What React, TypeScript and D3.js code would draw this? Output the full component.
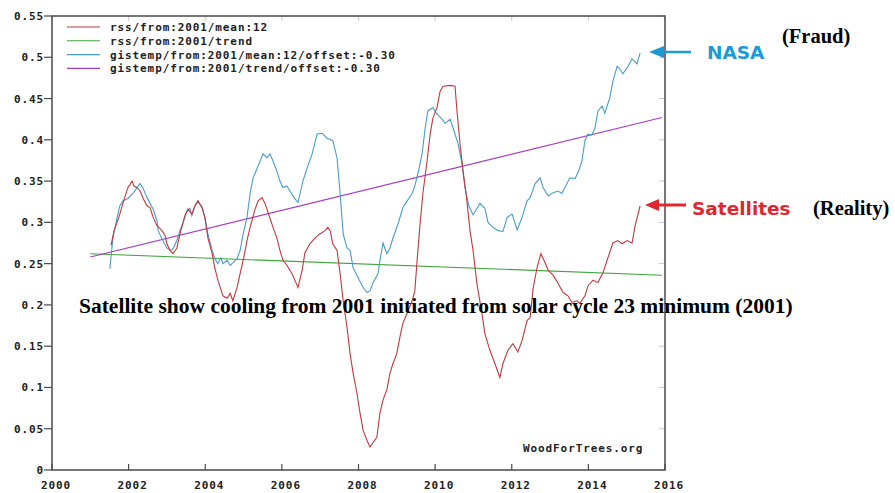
import React from "react";
import * as d3 from "d3";

const xTickYears = [2000, 2002, 2004, 2006, 2008, 2010, 2012, 2014, 2016];
const yTickValues = [0, 0.05, 0.1, 0.15, 0.2, 0.25, 0.3, 0.35, 0.4, 0.45, 0.5, 0.55];
const yTickLabels = ["0", "0.05", "0.1", "0.15", "0.2", "0.25", "0.3", "0.35", "0.4", "0.45", "0.5", "0.55"];

const legendLabels = [
  "rss/from:2001/mean:12",
  "rss/from:2001/trend",
  "gistemp/from:2001/mean:12/offset:-0.30",
  "gistemp/from:2001/trend/offset:-0.30",
];
const seriesColors = ["#c4383c", "#3ea63e", "#4a9ccb", "#a43fc6"];

// rss/from:2001/mean:12  [year, value]
const rssMean12: [number, number][] = [
  [2001.54, 0.272], [2001.62, 0.29], [2001.7, 0.3], [2001.77, 0.31], [2001.85, 0.323],
  [2001.98, 0.342], [2002.09, 0.35], [2002.14, 0.344], [2002.22, 0.342], [2002.3, 0.338],
  [2002.38, 0.329], [2002.48, 0.32], [2002.56, 0.318], [2002.64, 0.306], [2002.74, 0.296],
  [2002.87, 0.29], [2002.95, 0.284], [2003.0, 0.274], [2003.08, 0.266], [2003.16, 0.262],
  [2003.26, 0.269], [2003.34, 0.286], [2003.47, 0.308], [2003.55, 0.316], [2003.65, 0.31],
  [2003.73, 0.32], [2003.81, 0.326], [2003.92, 0.317], [2003.99, 0.306], [2004.07, 0.281],
  [2004.18, 0.262], [2004.25, 0.245], [2004.33, 0.23], [2004.46, 0.211], [2004.57, 0.208],
  [2004.65, 0.214], [2004.72, 0.205], [2004.83, 0.221], [2004.91, 0.238], [2004.99, 0.254],
  [2005.09, 0.278], [2005.17, 0.294], [2005.3, 0.316], [2005.38, 0.326], [2005.48, 0.33],
  [2005.56, 0.323], [2005.64, 0.312], [2005.77, 0.294], [2005.87, 0.281], [2005.95, 0.266],
  [2006.03, 0.254], [2006.13, 0.248], [2006.26, 0.238], [2006.34, 0.23], [2006.42, 0.221],
  [2006.53, 0.242], [2006.6, 0.263], [2006.73, 0.274], [2006.86, 0.281], [2006.99, 0.286],
  [2007.13, 0.29], [2007.2, 0.294], [2007.26, 0.29], [2007.33, 0.274], [2007.44, 0.266],
  [2007.52, 0.238], [2007.6, 0.205], [2007.7, 0.173], [2007.78, 0.141], [2007.86, 0.117],
  [2007.96, 0.093], [2008.04, 0.069], [2008.12, 0.048], [2008.22, 0.036], [2008.3, 0.028],
  [2008.38, 0.033], [2008.48, 0.04], [2008.56, 0.069], [2008.64, 0.085], [2008.74, 0.097],
  [2008.82, 0.117], [2008.9, 0.129], [2009.0, 0.141], [2009.08, 0.161], [2009.16, 0.178],
  [2009.27, 0.19], [2009.4, 0.205], [2009.47, 0.217], [2009.53, 0.254], [2009.6, 0.294],
  [2009.68, 0.335], [2009.79, 0.374], [2009.87, 0.407], [2009.94, 0.426], [2010.05, 0.439],
  [2010.13, 0.459], [2010.21, 0.465], [2010.39, 0.466], [2010.52, 0.465], [2010.57, 0.435],
  [2010.65, 0.395], [2010.73, 0.362], [2010.83, 0.326], [2010.91, 0.29], [2010.99, 0.266],
  [2011.09, 0.226], [2011.22, 0.19], [2011.3, 0.165], [2011.43, 0.145], [2011.56, 0.129],
  [2011.69, 0.112], [2011.77, 0.129], [2011.9, 0.145], [2012.03, 0.153], [2012.16, 0.143],
  [2012.27, 0.157], [2012.4, 0.181], [2012.48, 0.185], [2012.56, 0.221], [2012.66, 0.245],
  [2012.76, 0.262], [2012.87, 0.251], [2012.95, 0.242], [2013.08, 0.236], [2013.21, 0.226],
  [2013.34, 0.215], [2013.47, 0.211], [2013.57, 0.203], [2013.7, 0.205], [2013.78, 0.202],
  [2013.91, 0.211], [2013.99, 0.223], [2014.12, 0.23], [2014.25, 0.227], [2014.38, 0.239],
  [2014.51, 0.257], [2014.64, 0.275], [2014.77, 0.278], [2014.88, 0.274], [2015.01, 0.278],
  [2015.14, 0.275], [2015.22, 0.296], [2015.35, 0.32],
];

// gistemp/from:2001/mean:12/offset:-0.30  [year, value]
const gistempMean12: [number, number][] = [
  [2001.51, 0.244], [2001.59, 0.281], [2001.7, 0.306], [2001.77, 0.32], [2001.85, 0.326],
  [2001.98, 0.329], [2002.11, 0.335], [2002.22, 0.342], [2002.3, 0.347], [2002.38, 0.341],
  [2002.48, 0.33], [2002.56, 0.323], [2002.64, 0.316], [2002.74, 0.302], [2002.77, 0.29],
  [2002.87, 0.28], [2003.0, 0.269], [2003.08, 0.266], [2003.16, 0.268], [2003.26, 0.278],
  [2003.34, 0.29], [2003.42, 0.3], [2003.52, 0.314], [2003.6, 0.317], [2003.65, 0.308],
  [2003.73, 0.32], [2003.81, 0.326], [2003.92, 0.318], [2003.99, 0.306], [2004.07, 0.286],
  [2004.18, 0.266], [2004.25, 0.256], [2004.33, 0.25], [2004.41, 0.257], [2004.46, 0.25],
  [2004.57, 0.254], [2004.65, 0.248], [2004.72, 0.251], [2004.83, 0.256], [2004.91, 0.266],
  [2004.99, 0.286], [2005.09, 0.306], [2005.17, 0.335], [2005.25, 0.354], [2005.35, 0.365],
  [2005.43, 0.374], [2005.51, 0.383], [2005.61, 0.378], [2005.69, 0.383], [2005.77, 0.374],
  [2005.87, 0.362], [2005.95, 0.35], [2006.03, 0.342], [2006.13, 0.344], [2006.21, 0.338],
  [2006.32, 0.33], [2006.42, 0.324], [2006.55, 0.35], [2006.66, 0.366], [2006.79, 0.383],
  [2006.92, 0.407], [2007.05, 0.408], [2007.18, 0.402], [2007.33, 0.399], [2007.44, 0.378],
  [2007.52, 0.335], [2007.6, 0.286], [2007.7, 0.269], [2007.78, 0.266], [2007.86, 0.245],
  [2007.99, 0.233], [2008.12, 0.221], [2008.22, 0.215], [2008.3, 0.217], [2008.38, 0.227],
  [2008.51, 0.238], [2008.56, 0.254], [2008.64, 0.275], [2008.74, 0.262], [2008.82, 0.269],
  [2008.9, 0.281], [2009.03, 0.298], [2009.16, 0.318], [2009.27, 0.326], [2009.4, 0.335],
  [2009.47, 0.344], [2009.55, 0.359], [2009.66, 0.383], [2009.74, 0.414], [2009.81, 0.435],
  [2009.94, 0.439], [2010.05, 0.431], [2010.18, 0.425], [2010.26, 0.42], [2010.39, 0.425],
  [2010.47, 0.414], [2010.6, 0.395], [2010.7, 0.371], [2010.78, 0.342], [2010.88, 0.32],
  [2010.99, 0.309], [2011.17, 0.323], [2011.3, 0.317], [2011.38, 0.3], [2011.51, 0.294],
  [2011.64, 0.29], [2011.77, 0.289], [2011.88, 0.306], [2012.01, 0.31], [2012.14, 0.291],
  [2012.27, 0.306], [2012.4, 0.326], [2012.48, 0.33], [2012.61, 0.347], [2012.74, 0.354],
  [2012.82, 0.342], [2012.95, 0.332], [2013.08, 0.336], [2013.21, 0.338], [2013.31, 0.335],
  [2013.44, 0.347], [2013.52, 0.354], [2013.65, 0.353], [2013.73, 0.36], [2013.83, 0.374],
  [2013.91, 0.399], [2013.99, 0.407], [2014.09, 0.406], [2014.17, 0.414], [2014.25, 0.435],
  [2014.36, 0.441], [2014.43, 0.432], [2014.56, 0.451], [2014.64, 0.471], [2014.75, 0.489],
  [2014.82, 0.486], [2014.9, 0.48], [2015.01, 0.487], [2015.14, 0.498], [2015.27, 0.492],
  [2015.35, 0.505],
];

// trend endpoints [year, value]
const rssTrend: [number, number][] = [[2001.0, 0.262], [2015.92, 0.236]];
const gistempTrend: [number, number][] = [[2001.0, 0.258], [2015.92, 0.427]];

const W = 895;
const H = 493;
const M = { left: 52, right: 665, top: 16, bottom: 470 };

const pixelFont: React.CSSProperties = {
  fontFamily: "'DejaVu Sans Mono', monospace",
  fontWeight: "bold",
  fontSize: 11,
  letterSpacing: 0.9,
};

export default function App() {
  const x = d3.scaleLinear().domain([2000, 2016]).range([M.left, M.right]);
  const y = d3.scaleLinear().domain([0, 0.55]).range([M.bottom, M.top]);
  const line = d3
    .line<[number, number]>()
    .x((d) => x(d[0]))
    .y((d) => y(d[1]));

  return (
    <svg
      width={W}
      height={H}
      style={{ position: "absolute", left: 0, top: 0, background: "#fff" }}
    >
      <rect x={0} y={0} width={W} height={H} fill="#fff" />
      {/* faint inner ticks on top and right */}
      {xTickYears.map((t) => (
        <line key={"tt" + t} x1={x(t)} x2={x(t)} y1={M.top} y2={M.top + 5} stroke="#c8c8c8" />
      ))}
      {yTickValues.map((v) => (
        <line key={"rt" + v} x1={M.right - 6} x2={M.right} y1={y(v)} y2={y(v)} stroke="#c8c8c8" />
      ))}
      {/* series */}
      <g fill="none" strokeWidth={1.1}>
        <path d={line(rssTrend) || ""} stroke={seriesColors[1]} />
        <path d={line(gistempTrend) || ""} stroke={seriesColors[3]} />
        <path d={line(gistempMean12) || ""} stroke={seriesColors[2]} />
        <path d={line(rssMean12) || ""} stroke={seriesColors[0]} />
      </g>
      {/* frame */}
      <rect
        x={M.left}
        y={M.top}
        width={M.right - M.left}
        height={M.bottom - M.top}
        fill="none"
        stroke="#4a4a4a"
        strokeWidth={1.5}
      />
      {/* left ticks and labels */}
      {yTickValues.map((v, i) => (
        <g key={"yl" + v}>
          <line x1={M.left - 8} x2={M.left} y1={y(v)} y2={y(v)} stroke="#4a4a4a" strokeWidth={1.2} />
          <text x={44} y={y(v) + 4} textAnchor="end" fill="#222" style={pixelFont}>
            {yTickLabels[i]}
          </text>
        </g>
      ))}
      {/* bottom ticks and labels */}
      {xTickYears.map((t) => (
        <g key={"xl" + t}>
          <line x1={x(t)} x2={x(t)} y1={M.bottom} y2={M.bottom - 6} stroke="#4a4a4a" strokeWidth={1.2} />
          <text x={x(t) + 4} y={489} textAnchor="middle" fill="#222" style={pixelFont}>
            {String(t)}
          </text>
        </g>
      ))}
      {/* legend */}
      {legendLabels.map((lab, i) => {
        const cy = 27 + i * 13.8;
        return (
          <g key={lab}>
            <line x1={67} x2={100} y1={cy} y2={cy} stroke={seriesColors[i]} strokeWidth={1.1} />
            <text x={110} y={cy + 4} fill="#222" style={pixelFont}>
              {lab}
            </text>
          </g>
        );
      })}
      <text x={523} y={452} fill="#222" style={pixelFont}>
        WoodForTrees.org
      </text>

      {/* annotations */}
      <text
        x={79}
        y={313}
        fill="#000"
        style={{ fontFamily: "'Liberation Serif', 'Times New Roman', serif", fontWeight: "bold", fontSize: 21.5 }}
      >
        Satellite show cooling from 2001 initiated from solar cycle 23 minimum (2001)
      </text>

      <line x1={662} x2={691} y1={52} y2={52} stroke="#1a9bd7" strokeWidth={2.5} />
      <path d="M649,52 L664,46 L664,58 Z" fill="#1a9bd7" />
      <text
        x={707}
        y={59}
        fill="#1a9bd7"
        style={{ fontFamily: "'DejaVu Sans', sans-serif", fontWeight: "bold", fontSize: 18.5 }}
      >
        NASA
      </text>
      <text
        x={782}
        y={43}
        fill="#000"
        style={{ fontFamily: "'Liberation Serif', 'Times New Roman', serif", fontWeight: "bold", fontSize: 20.5 }}
      >
        (Fraud)
      </text>

      <line x1={656} x2={686} y1={205} y2={205} stroke="#e0262e" strokeWidth={3} />
      <path d="M645,205 L659,199 L659,211 Z" fill="#e0262e" />
      <text
        x={692}
        y={215}
        fill="#e0262e"
        style={{ fontFamily: "'DejaVu Sans', sans-serif", fontWeight: "bold", fontSize: 18.5 }}
      >
        Satellites
      </text>
      <text
        x={813}
        y={215}
        fill="#000"
        style={{ fontFamily: "'Liberation Serif', 'Times New Roman', serif", fontWeight: "bold", fontSize: 20.5 }}
      >
        (Reality)
      </text>
    </svg>
  );
}
